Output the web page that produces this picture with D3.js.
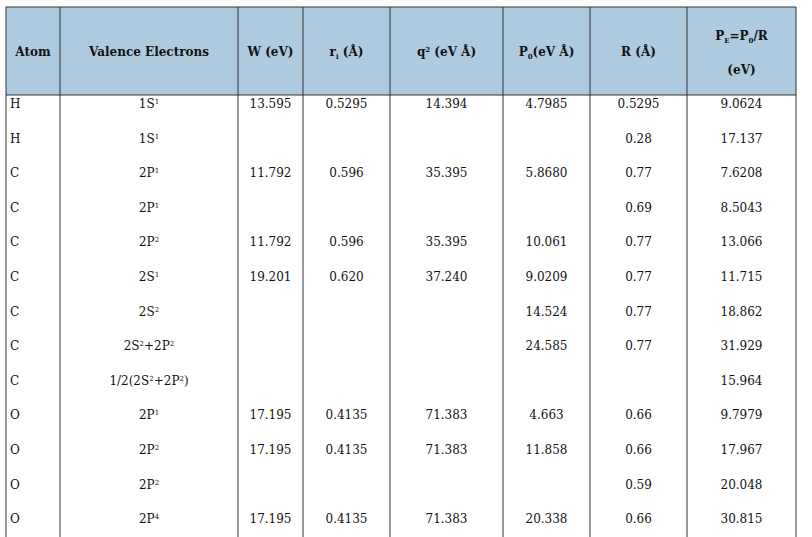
<!DOCTYPE html>
<html>
<head>
<style>
body { margin: 0; background: #fff; }
svg text { font-family: "DejaVu Serif", serif; font-size: 12px; fill: #111; }
svg text.h { font-weight: bold; }
</style>
</head>
<body>
<script src="https://d3js.org/d3.v7.min.js"></script>
<script>
var atoms = ['H','H','C','C','C','C','C','C','C','O','O','O','O'];
var valence = [['1S','1'],['1S','1'],['2P','1'],['2P','1'],['2P','2'],['2S','1'],['2S','2'],['2S','2','+2P','2'],['1/2(2S','2','+2P','2',')'],['2P','1'],['2P','2'],['2P','2'],['2P','4']];
var W = ['13.595','','11.792','','11.792','19.201','','','','17.195','17.195','','17.195'];
var ri = ['0.5295','','0.596','','0.596','0.620','','','','0.4135','0.4135','','0.4135'];
var q2 = ['14.394','','35.395','','35.395','37.240','','','','71.383','71.383','','71.383'];
var P0 = ['4.7985','','5.8680','','10.061','9.0209','14.524','24.585','','4.663','11.858','','20.338'];
var R = ['0.5295','0.28','0.77','0.69','0.77','0.77','0.77','0.77','','0.66','0.66','0.59','0.66'];
var PE = ['9.0624','17.137','7.6208','8.5043','13.066','11.715','18.862','31.929','15.964','9.7979','17.967','20.048','30.815'];

var colEdges = [6, 60, 238, 303, 390, 503, 590, 687, 796];
var headTop = 7, headBot = 95, rowH = 34.6;

var svg = d3.select('body').append('svg').attr('width', 812).attr('height', 537);
var y = d3.scaleLinear().domain([0, 1]).range([headBot, headBot + rowH]);

svg.append('rect').attr('x', colEdges[0]).attr('y', headTop)
  .attr('width', colEdges[8] - colEdges[0]).attr('height', headBot - headTop)
  .attr('fill', '#adcadf');

var cx = function(i) { return (colEdges[i] + colEdges[i + 1]) / 2; };

// header
function head(i, parts, yy) {
  var t = svg.append('text').attr('class', 'h').attr('x', cx(i)).attr('y', yy).attr('text-anchor', 'middle');
  parts.forEach(function(p) {
    var s = t.append('tspan').text(p[0]);
    if (p[1] === 'sup') s.attr('dy', -4).attr('font-size', 7);
    if (p[1] === 'sub') s.attr('dy', 3).attr('font-size', 7);
    if (p[2]) s.attr('dy', p[2]);
  });
}
head(0, [['Atom']], 56);
head(1, [['Valence Electrons']], 56);
head(2, [['W (eV)']], 56);
head(3, [['r'], ['i', 'sub'], [' (Å)', '', -3]], 56);
head(4, [['q'], ['2', 'sup'], [' (eV Å)', '', 4]], 56);
head(5, [['P'], ['0', 'sub'], ['(eV Å)', '', -3]], 56);
head(6, [['R (Å)']], 56);
head(7, [['P'], ['E', 'sub'], ['=P', '', -3], ['0', 'sub'], ['/R', '', -3]], 40);
head(7, [['(eV)']], 74);

// body
var cols = [atoms, null, W, ri, q2, P0, R, PE];
atoms.forEach(function(a, r) {
  var yy = y(r) + 13;
  cols.forEach(function(c, i) {
    if (i === 1) {
      var t = svg.append('text').attr('x', cx(1)).attr('y', yy).attr('text-anchor', 'middle');
      valence[r].forEach(function(p, k) {
        var s = t.append('tspan').text(p);
        if (k % 2 === 1) s.attr('dy', -4).attr('font-size', 7);
        else if (k > 0) s.attr('dy', 4);
      });
    } else if (c[r]) {
      svg.append('text').attr('x', i === 0 ? 10 : cx(i)).attr('y', yy)
        .attr('text-anchor', i === 0 ? 'start' : 'middle').text(c[r]);
    }
  });
});

// grid
var bottom = 537;
svg.append('line').attr('x1', colEdges[0]).attr('x2', colEdges[8]).attr('y1', headTop).attr('y2', headTop).attr('stroke', '#333');
svg.append('line').attr('x1', colEdges[0]).attr('x2', colEdges[8]).attr('y1', headBot).attr('y2', headBot).attr('stroke', '#333');
colEdges.forEach(function(x) {
  svg.append('line').attr('x1', x).attr('x2', x).attr('y1', headTop).attr('y2', bottom).attr('stroke', '#333');
});
</script>
</body>
</html>
